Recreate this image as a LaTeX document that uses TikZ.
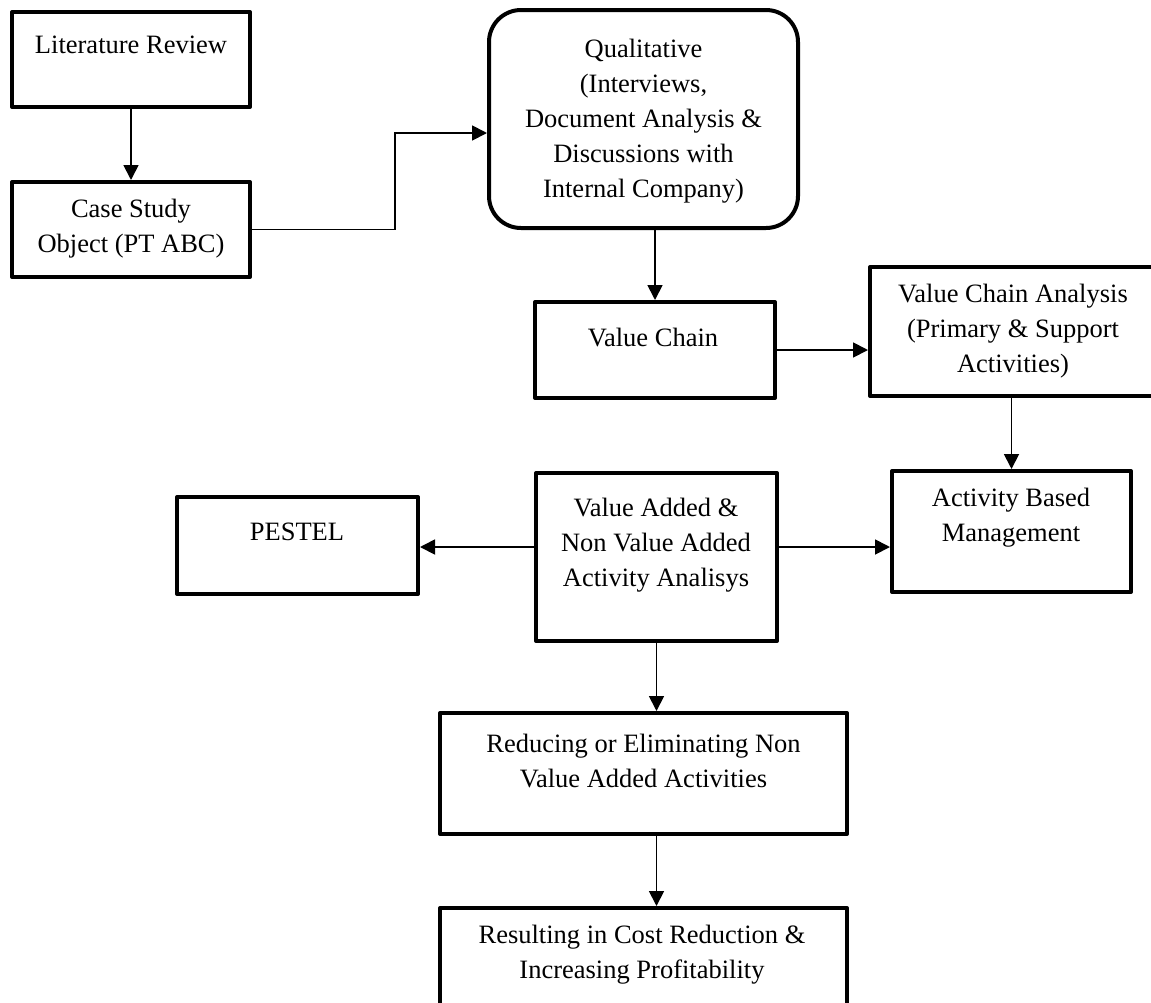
\documentclass[tikz,border=0pt]{standalone}
\usepackage{fontspec}
\setmainfont{Liberation Serif}
\usetikzlibrary{arrows.meta}
\begin{document}
\begin{tikzpicture}[x=1pt,y=-1pt,
  box/.style={draw, line width=4pt, line join=round, inner sep=0pt, outer sep=2pt},
  txt/.style={align=center, inner sep=0pt, font=\fontsize{26.5}{35}\selectfont},
  arr/.style={line width=1.8pt, -{Triangle[length=15pt,width=15pt]}}]
\useasboundingbox (0,0) rectangle (1151,1002);
\fill[white] (0,0) rectangle (1151,1002);
\clip (0,0) rectangle (1151,1002);
% boxes
\node[box, minimum width=238pt, minimum height=95pt] (LR) at (131,59.5) {};
\node[box, minimum width=238pt, minimum height=95pt] (CS) at (131,229.5) {};
\node[box, rounded corners=32pt, minimum width=309pt, minimum height=218pt] (Q) at (643.5,119) {};
\node[box, minimum width=240pt, minimum height=96pt] (VC) at (655,350) {};
\node[box, minimum width=292pt, minimum height=129pt] (VCA) at (1016,331.5) {};
\node[box, minimum width=239pt, minimum height=121pt] (ABM) at (1011.5,531.5) {};
\node[box, minimum width=241pt, minimum height=97pt] (PE) at (297.5,545.5) {};
\node[box, minimum width=241pt, minimum height=168pt] (VA) at (656.5,557) {};
\node[box, minimum width=407pt, minimum height=121pt] (RD) at (643.5,773.5) {};
\node[box, minimum width=407pt, minimum height=136pt] (RS) at (643.5,976) {};
% texts
\node[txt] (LRt) at (131,45) {Literature Review};
\node[txt] (CSt) at (131,228.5) {Case Study\\Object (PT ABC)};
\node[txt] (Qt) at (643.5,121) {Qualitative\\(Interviews,\\Document Analysis \&\\Discussions with\\Internal Company)};
\node[txt] (VCt) at (653,337) {Value Chain};
\node[txt] (VCAt) at (1013,331) {Value Chain Analysis\\(Primary \& Support\\Activities)};
\node[txt] (ABMt) at (1011,517.5) {Activity Based\\Management};
\node[txt] (PEt) at (297,532) {PESTEL};
\node[txt] (VAt) at (656,545) {Value Added \&\\Non Value Added\\Activity Analisys};
\node[txt] (RDt) at (643.5,760.5) {Reducing or Eliminating Non\\Value Added Activities};
\node[txt] (RSt) at (642,955) {Resulting in Cost Reduction \&\\Increasing Profitability};
% connectors
\draw[arr] (LR.south) -- (CS.north);
\draw[arr] (CS.east) -- ++(143,0) |- ([yshift=-14pt]Q.west);
\draw[arr] (VC.north |- Q.south) -- (VC.north);
\draw[arr] (VC.east) -- (VC.east -| VCA.west);
\draw[arr] (ABM.north |- VCA.south) -- (ABM.north);
\draw[arr] ([yshift=10pt]VA.east) -- ([yshift=10pt]VA.east -| ABM.west);
\draw[arr] ([yshift=10pt]VA.west) -- ([yshift=10pt]VA.west -| PE.east);
\draw[arr] (VA.south) -- (VA.south |- RD.north);
\draw[arr] (VA.south |- RD.south) -- (VA.south |- RS.north);
\end{tikzpicture}
\end{document}
